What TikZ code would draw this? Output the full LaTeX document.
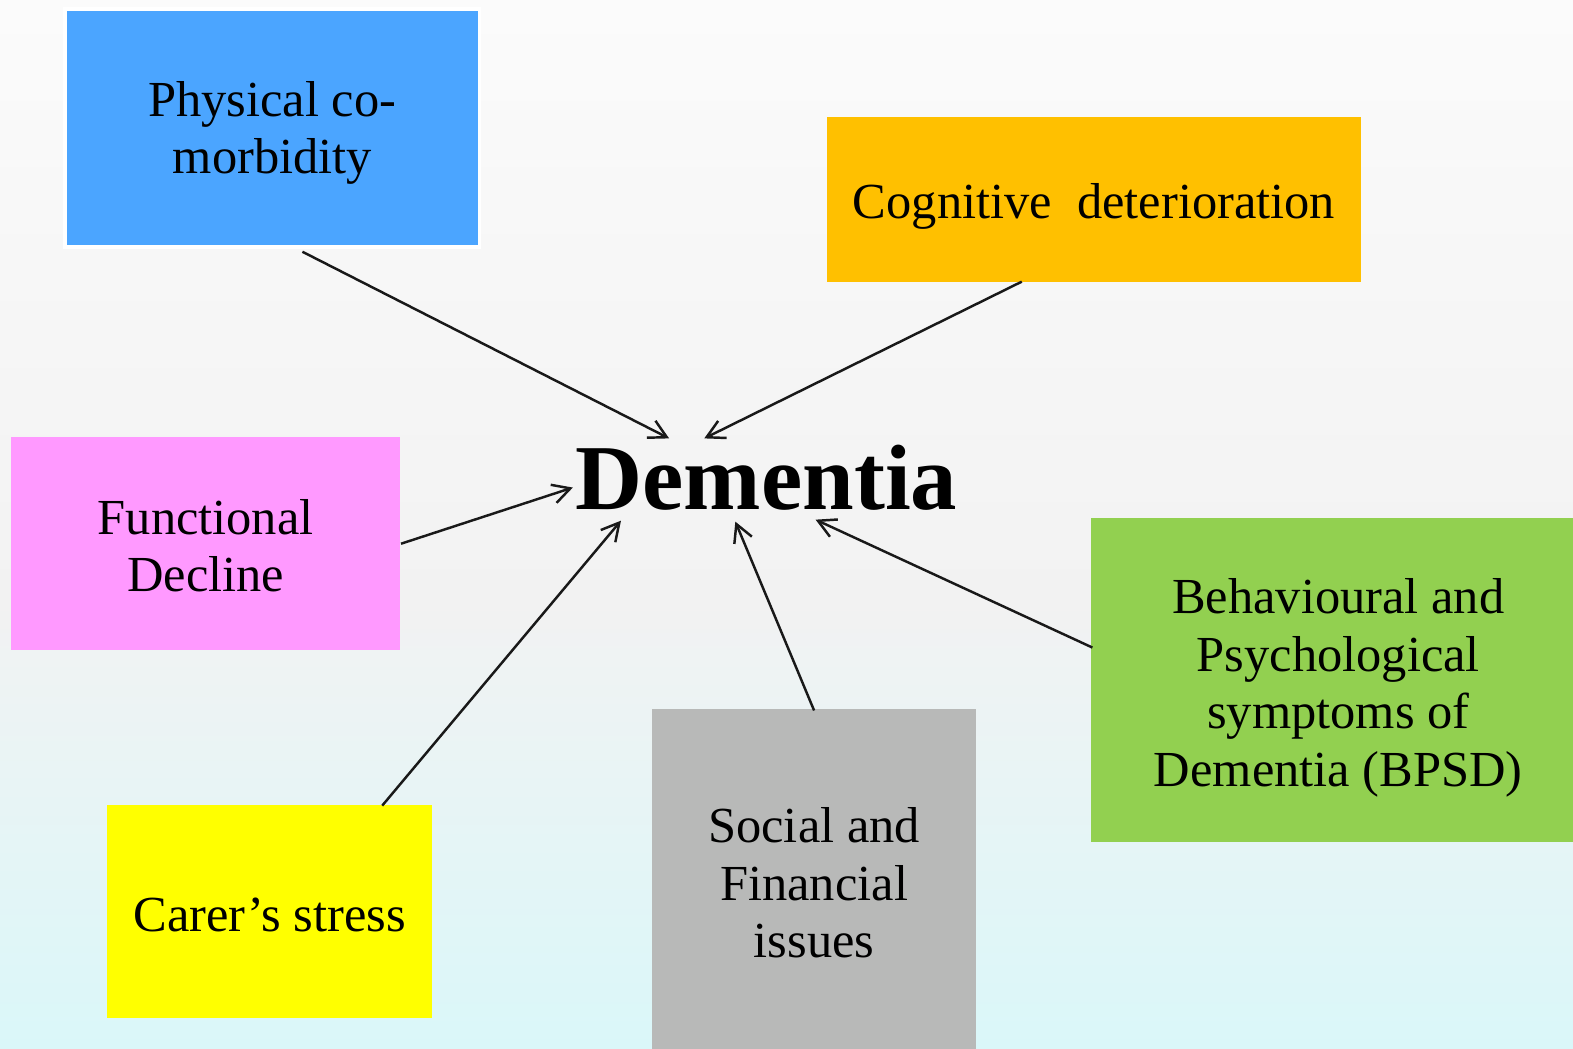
\documentclass[tikz,border=0pt]{standalone}
\usepackage{fontspec}
\setmainfont{Liberation Serif}
\usetikzlibrary{arrows.meta,calc}
\definecolor{physblue}{HTML}{4BA5FF}
\definecolor{cogorange}{HTML}{FFC000}
\definecolor{funcpink}{HTML}{FF99FF}
\definecolor{bpsdgreen}{HTML}{92D050}
\definecolor{careryellow}{HTML}{FFFF00}
\definecolor{socialgrey}{HTML}{B8B9B8}
\definecolor{bgtop}{HTML}{FBFBFB}
\definecolor{bgmid}{HTML}{F2F2F2}
\definecolor{bgbot}{HTML}{DAF7F9}
\begin{document}
\begin{tikzpicture}[x=0.010032cm,y=-0.010032cm,
  box/.style={inner sep=0pt},
  txt/.style={inner sep=0pt, align=center, text=black,
    font=\fontsize{14.35}{16.35}\selectfont},
  arr/.style={line width=0.7pt, draw=black!90,
    -{Straight Barb[length=5pt,width=5.4pt]}}]
\useasboundingbox (0,0) rectangle (1568,1044.67);
\clip (0,0) rectangle (1568,1044.67);
\shade[top color=bgtop, bottom color=bgmid] (0,0) rectangle (1568,600);
\shade[top color=bgmid, bottom color=bgbot] (0,599) rectangle (1568,1044.67);

\node[box, fill=physblue, draw=white, line width=1pt, minimum width=4.14cm, minimum height=2.38cm,
  label={[txt, yshift=-0.05cm]center:Physical co-\\morbidity}] (phys) at (271.5,127.5) {};
\node[box, fill=cogorange, minimum width=5.33cm, minimum height=1.645cm,
  label={[txt, yshift=-0.07cm]center:Cognitive~ deterioration}] (cog) at (1090.5,199) {};
\node[box, fill=funcpink, minimum width=3.89cm, minimum height=2.13cm,
  label={[txt, yshift=-0.02cm]center:Functional\\Decline}] (func) at (205,542) {};
\node[box, fill=bpsdgreen, minimum width=4.94cm, minimum height=3.24cm,
  label={[txt, yshift=-0.08cm]center:Behavioural and\\Psychological\\symptoms of\\Dementia (BPSD)}] (bpsd) at (1334,677.5) {};
\node[box, fill=careryellow, minimum width=3.25cm, minimum height=2.13cm,
  label={[txt, yshift=-0.03cm]center:Carer’s stress}] (carer) at (269,909) {};
\node[box, fill=socialgrey, minimum width=3.24cm, minimum height=3.47cm,
  label={[txt]center:Social and\\Financial\\issues}] (social) at (811.5,880) {};
\node[inner sep=0pt, font=\fontsize{26.4}{30}\selectfont\bfseries] (dem) at (764,476) {Dementia};

\draw[arr] ([shift={(30,3)}]phys.south) -- ([shift={(-97,-39)}]dem.center);
\draw[arr] ([shift={(-72,-1)}]cog.south) -- ([shift={(-62,-39)}]dem.center);
\draw[arr] (func.east) -- ([shift={(-193,10)}]dem.center);
\draw[arr] ([shift={(112,1)}]carer.north) -- ([shift={(-145,43)}]dem.center);
\draw[arr] ([shift={(0,2)}]social.north) -- ([shift={(-31,44)}]dem.center);
\draw[arr] ([shift={(2,-32)}]bpsd.west) -- ([shift={(49,42)}]dem.center);
\end{tikzpicture}
\end{document}
